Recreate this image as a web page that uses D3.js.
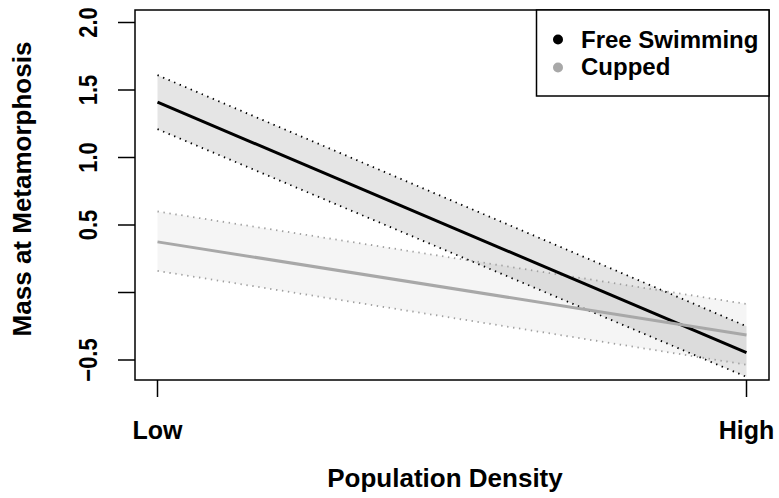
<!DOCTYPE html>
<html>
<head>
<meta charset="utf-8">
<script src="https://cdn.jsdelivr.net/npm/d3@7"></script>
<style>
  body { margin: 0; background: #fff; }
  text { font-family: "Liberation Sans", Arial, sans-serif; font-weight: bold; fill: #000; }
</style>
</head>
<body>
<div id="chart"></div>
<script>
// data
const densityLabels = ["Low", "High"]
const densityPos = [0, 1]
const freeFit = [1.41, -0.445]
const freeUpper = [1.61, -0.25]
const freeLower = [1.21, -0.625]
const cupFit = [0.375, -0.315]
const cupUpper = [0.60, -0.085]
const cupLower = [0.16, -0.535]
const yTicks = [-0.5, 0, 0.5, 1.0, 1.5, 2.0]
const yTickLabels = ["\u22120.5", "", "0.5", "1.0", "1.5", "2.0"]
const legendNames = ["Free Swimming", "Cupped"]
const legendColors = ["#000000", "#a8a8a8"]

const width = 779, height = 498
const box = { left: 135, right: 769, top: 10, bottom: 380 }

const svg = d3.select("#chart")
    .append("svg")
    .attr("width", width)
    .attr("height", height)

const x = d3.scaleLinear().domain([0, 1]).range([157.5, 746.5])
const y = d3.scaleLinear().domain([-0.5, 2.0]).range([360, 22.5])

function band(upper, lower) {
    const pts = densityPos.map((d, i) => ({ x: d, lo: lower[i], hi: upper[i] }))
    return d3.area().x(d => x(d.x)).y0(d => y(d.lo)).y1(d => y(d.hi))(pts)
}
const line = d3.line().x(d => x(d[0])).y(d => y(d[1]))
const zip = v => densityPos.map((d, i) => [d, v[i]])

// confidence bands
svg.append("path").attr("d", band(cupUpper, cupLower))
    .attr("fill", "#000").attr("fill-opacity", 0.04)
svg.append("path").attr("d", band(freeUpper, freeLower))
    .attr("fill", "#000").attr("fill-opacity", 0.1)

// dotted band edges
const dotted = [[cupUpper, "#a0a0a0"], [cupLower, "#a0a0a0"], [freeUpper, "#000"], [freeLower, "#000"]]
dotted.forEach(([v, c]) => {
    svg.append("path").attr("d", line(zip(v)))
        .attr("fill", "none").attr("stroke", c)
        .attr("stroke-width", 1.8).attr("stroke-dasharray", "1.4,4.6")
})

// fitted lines
svg.append("path").attr("d", line(zip(freeFit)))
    .attr("fill", "none").attr("stroke", "#000").attr("stroke-width", 3)
svg.append("path").attr("d", line(zip(cupFit)))
    .attr("fill", "none").attr("stroke", "#a8a8a8").attr("stroke-width", 3)

// plot frame
svg.append("rect")
    .attr("x", box.left).attr("y", box.top)
    .attr("width", box.right - box.left).attr("height", box.bottom - box.top)
    .attr("fill", "none").attr("stroke", "#000").attr("stroke-width", 1.5)

// y axis
const yAxis = svg.append("g")
yAxis.selectAll("line").data(yTicks).join("line")
    .attr("x1", 118).attr("x2", box.left)
    .attr("y1", d => y(d)).attr("y2", d => y(d))
    .attr("stroke", "#000").attr("stroke-width", 1.5)
yAxis.selectAll("text").data(yTicks).join("text")
    .attr("transform", d => `translate(97, ${y(d)}) rotate(-90) scale(1, 1.2)`)
    .attr("text-anchor", "middle")
    .style("font-size", "22px")
    .text((d, i) => yTickLabels[i])

// x axis
const xAxis = svg.append("g")
xAxis.selectAll("line").data(densityPos).join("line")
    .attr("x1", d => x(d)).attr("x2", d => x(d))
    .attr("y1", box.bottom).attr("y2", 397)
    .attr("stroke", "#000").attr("stroke-width", 1.5)
xAxis.selectAll("text").data(densityPos).join("text")
    .attr("x", d => x(d)).attr("y", 439)
    .attr("text-anchor", "middle")
    .style("font-size", "25px")
    .text((d, i) => densityLabels[i])

// axis titles
svg.append("text")
    .attr("x", 445).attr("y", 487)
    .attr("text-anchor", "middle")
    .style("font-size", "26px")
    .text("Population Density")
svg.append("text")
    .attr("transform", "translate(31, 189) rotate(-90)")
    .attr("text-anchor", "middle")
    .style("font-size", "26px")
    .text("Mass at Metamorphosis")

// legend
const legend = svg.append("g")
legend.append("rect")
    .attr("x", 536.5).attr("y", box.top)
    .attr("width", box.right - 536.5).attr("height", 86)
    .attr("fill", "#fff").attr("stroke", "#000").attr("stroke-width", 1.5)
legendNames.forEach((name, i) => {
    legend.append("circle")
        .attr("cx", 558).attr("cy", 39.5 + i * 28).attr("r", 5)
        .attr("fill", legendColors[i])
    legend.append("text")
        .attr("x", 581).attr("y", 47.5 + i * 27.5)
        .style("font-size", "24px")
        .text(name)
})
</script>
</body>
</html>
